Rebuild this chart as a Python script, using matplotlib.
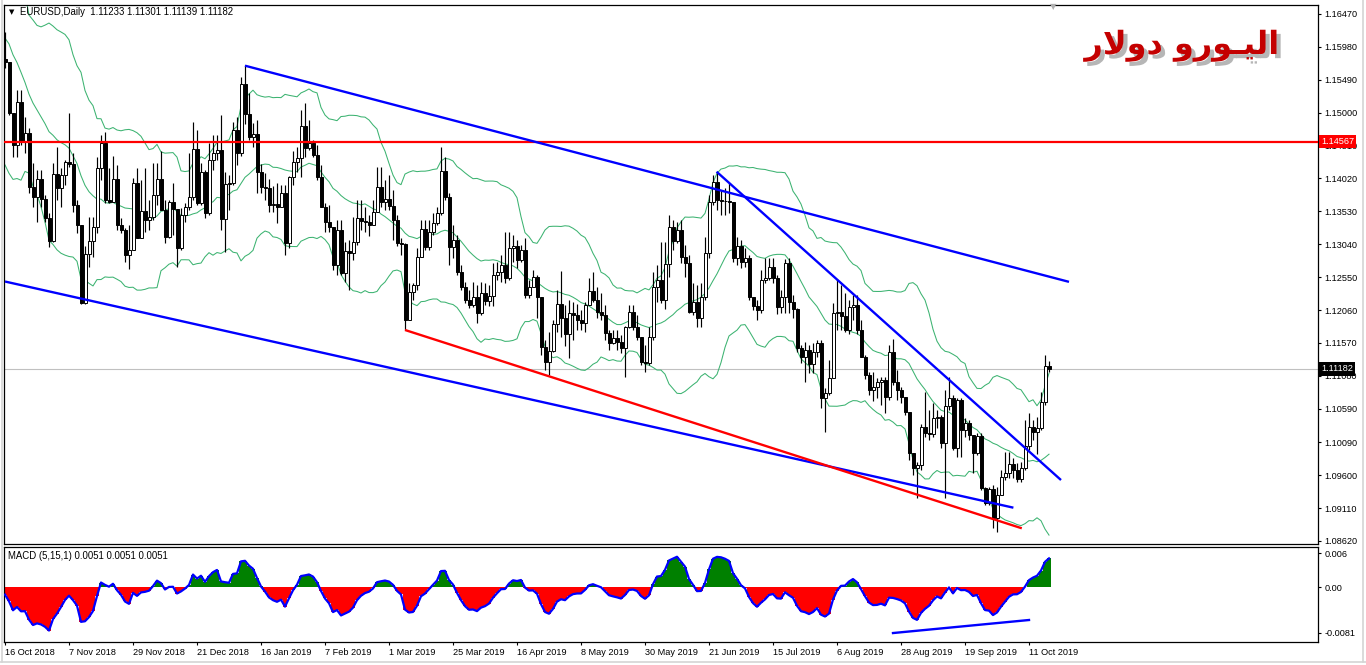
import numpy as np
import pandas as pd
import matplotlib
matplotlib.use("Agg")
import matplotlib.pyplot as plt
from matplotlib import patheffects as pe
from matplotlib.lines import Line2D

W, H = 1366, 665

# ---------------- data ----------------
# closes before the first visible bar (only used to seed Bollinger / MACD)
warmup_closes = [1.1671, 1.1778, 1.1745, 1.1748, 1.1772, 1.1737, 1.1641, 1.1604, 1.1576, 1.1547,
                 1.1549, 1.1516, 1.1523, 1.1491, 1.1491, 1.1524, 1.1593, 1.1560, 1.1580]
first_open = 1.1580

closes = [
    1.1575, 1.1500, 1.1452, 1.1516, 1.1456, 1.1470, 1.1389, 1.1374, 1.1401, 1.1371,
    1.1343, 1.1309, 1.1409, 1.1388, 1.1407, 1.1427, 1.1424, 1.1362, 1.1333, 1.1216,
    1.1289, 1.1309, 1.1330, 1.1418, 1.1455, 1.1370, 1.1367, 1.1401, 1.1333, 1.1325,
    1.1288, 1.1296, 1.1395, 1.1313, 1.1354, 1.1340, 1.1345, 1.1377, 1.1401, 1.1355,
    1.1315, 1.1367, 1.1356, 1.1298, 1.1347, 1.1359, 1.1375, 1.1446, 1.1365, 1.1412,
    1.1350, 1.1430, 1.1440, 1.1444, 1.1342, 1.1394, 1.1395, 1.1474, 1.1440, 1.1543,
    1.1498, 1.1464, 1.1468, 1.1412, 1.1389, 1.1388, 1.1362, 1.1364, 1.1359, 1.1380,
    1.1306, 1.1404, 1.1427, 1.1433, 1.1480, 1.1447, 1.1455, 1.1437, 1.1404, 1.1359,
    1.1337, 1.1330, 1.1273, 1.1325, 1.1261, 1.1294, 1.1291, 1.1307, 1.1343, 1.1339,
    1.1337, 1.1333, 1.1352, 1.1389, 1.1367, 1.1371, 1.1361, 1.1340, 1.1306, 1.1304,
    1.1191, 1.1233, 1.1243, 1.1285, 1.1327, 1.1300, 1.1322, 1.1336, 1.1351, 1.1413,
    1.1374, 1.1300, 1.1310, 1.1263, 1.1240, 1.1221, 1.1213, 1.1225, 1.1202, 1.1231,
    1.1219, 1.1227, 1.1258, 1.1263, 1.1273, 1.1254, 1.1298, 1.1301, 1.1280, 1.1295,
    1.1228, 1.1240, 1.1255, 1.1225, 1.1151, 1.1129, 1.1145, 1.1185, 1.1215, 1.1194,
    1.1170, 1.1202, 1.1199, 1.1191, 1.1186, 1.1213, 1.1234, 1.1221, 1.1203, 1.1199,
    1.1172, 1.1157, 1.1164, 1.1158, 1.1149, 1.1181, 1.1203, 1.1181, 1.1166, 1.1129,
    1.1127, 1.1166, 1.1240, 1.1251, 1.1221, 1.1275, 1.1330, 1.1309, 1.1325, 1.1285,
    1.1276, 1.1203, 1.1218, 1.1194, 1.1225, 1.1291, 1.1367, 1.1397, 1.1370, 1.1368,
    1.1368, 1.1367, 1.1283, 1.1301, 1.1277, 1.1283, 1.1225, 1.1212, 1.1206, 1.1251,
    1.1254, 1.1270, 1.1254, 1.1210, 1.1225, 1.1276, 1.1218, 1.1208, 1.1149, 1.1136,
    1.1146, 1.1126, 1.1143, 1.1157, 1.1075, 1.1082, 1.1105, 1.1201, 1.1203, 1.1197,
    1.1176, 1.1210, 1.1213, 1.1176, 1.1136, 1.1109, 1.1087, 1.1091, 1.1099, 1.1102,
    1.1076, 1.1143, 1.1099, 1.1087, 1.1076, 1.1054, 1.0993, 1.0971, 1.0975, 1.1032,
    1.1023, 1.1021, 1.1045, 1.1047, 1.1008, 1.1063, 1.1075, 1.1000, 1.1072, 1.1027,
    1.1038, 1.1020, 1.0993, 1.1019, 1.0941, 1.0918, 1.0939, 1.0896, 1.0930, 1.0957,
    1.0963, 1.0976, 1.0968, 1.0955, 1.0971, 1.1003, 1.1032, 1.1024, 1.1030, 1.1069,
    1.1123, 1.11182]

highs = [
    1.1620, 1.1575, 1.1500, 1.1534, 1.1534, 1.1494, 1.1477, 1.1425, 1.1415, 1.1415,
    1.1377, 1.1350, 1.1425, 1.1449, 1.1418, 1.1430, 1.1500, 1.1440, 1.1370, 1.1330,
    1.1301, 1.1344, 1.1344, 1.1434, 1.1467, 1.1471, 1.1418, 1.1435, 1.1422, 1.1343,
    1.1328, 1.1333, 1.1403, 1.1418, 1.1400, 1.1418, 1.1370, 1.1425, 1.1425, 1.1443,
    1.1370, 1.1370, 1.1395, 1.1355, 1.1358, 1.1365, 1.1440, 1.1486, 1.1474, 1.1425,
    1.1415, 1.1455, 1.1467, 1.1467, 1.1496, 1.1412, 1.1407, 1.1486, 1.1494, 1.1553,
    1.1571, 1.1529, 1.1485, 1.1489, 1.1424, 1.1410, 1.1401, 1.1391, 1.1395, 1.1392,
    1.1392, 1.1406, 1.1443, 1.1449, 1.1504, 1.1514, 1.1489, 1.1459, 1.1452, 1.1422,
    1.1365, 1.1362, 1.1325, 1.1340, 1.1340, 1.1307, 1.1310, 1.1344, 1.1370, 1.1370,
    1.1359, 1.1348, 1.1370, 1.1419, 1.1419, 1.1400, 1.1407, 1.1385, 1.1348, 1.1313,
    1.1306, 1.1246, 1.1246, 1.1298, 1.1340, 1.1340, 1.1340, 1.1351, 1.1360, 1.1449,
    1.1434, 1.1380, 1.1333, 1.1318, 1.1273, 1.1248, 1.1236, 1.1248, 1.1243, 1.1248,
    1.1246, 1.1243, 1.1276, 1.1278, 1.1288, 1.1322, 1.1322, 1.1318, 1.1310, 1.1303,
    1.1313, 1.1251, 1.1266, 1.1258, 1.1225, 1.1161, 1.1173, 1.1191, 1.1236, 1.1264,
    1.1213, 1.1221, 1.1218, 1.1215, 1.1206, 1.1218, 1.1254, 1.1263, 1.1240, 1.1231,
    1.1213, 1.1176, 1.1176, 1.1176, 1.1169, 1.1182, 1.1213, 1.1213, 1.1199, 1.1164,
    1.1154, 1.1181, 1.1263, 1.1273, 1.1307, 1.1307, 1.1348, 1.1340, 1.1337, 1.1340,
    1.1303, 1.1288, 1.1246, 1.1243, 1.1246, 1.1315, 1.1377, 1.1407, 1.1412, 1.1385,
    1.1388, 1.1395, 1.1362, 1.1315, 1.1310, 1.1298, 1.1288, 1.1225, 1.1221, 1.1266,
    1.1284, 1.1284, 1.1284, 1.1258, 1.1236, 1.1282, 1.1284, 1.1228, 1.1209, 1.1154,
    1.1158, 1.1154, 1.1157, 1.1161, 1.1161, 1.1090, 1.1132, 1.1216, 1.1252, 1.1243,
    1.1231, 1.1221, 1.1228, 1.1228, 1.1191, 1.1139, 1.1113, 1.1113, 1.1105, 1.1106,
    1.1106, 1.1154, 1.1163, 1.1117, 1.1091, 1.1076, 1.1054, 1.0987, 1.0980, 1.1036,
    1.1084, 1.1057, 1.1067, 1.1057, 1.1050, 1.1087, 1.1106, 1.1079, 1.1075, 1.1075,
    1.1045, 1.1042, 1.1020, 1.1023, 1.1023, 1.0942, 1.0942, 1.0945, 1.0942, 1.0968,
    1.0995, 1.0995, 1.0986, 1.0978, 1.0980, 1.1042, 1.1052, 1.1042, 1.1047, 1.1084,
    1.1139, 1.11301]

lows = [
    1.1567, 1.1497, 1.1434, 1.1434, 1.1452, 1.1440, 1.1380, 1.1359, 1.1337, 1.1359,
    1.1337, 1.1300, 1.1307, 1.1370, 1.1359, 1.1392, 1.1419, 1.1352, 1.1321, 1.1215,
    1.1215, 1.1270, 1.1285, 1.1321, 1.1400, 1.1365, 1.1365, 1.1370, 1.1325, 1.1321,
    1.1277, 1.1267, 1.1362, 1.1313, 1.1318, 1.1322, 1.1325, 1.1340, 1.1362, 1.1355,
    1.1306, 1.1313, 1.1318, 1.1270, 1.1295, 1.1337, 1.1355, 1.1370, 1.1362, 1.1362,
    1.1343, 1.1347, 1.1415, 1.1430, 1.1325, 1.1292, 1.1355, 1.1392, 1.1422, 1.1435,
    1.1483, 1.1459, 1.1449, 1.1380, 1.1380, 1.1370, 1.1352, 1.1352, 1.1336, 1.1359,
    1.1288, 1.1298, 1.1392, 1.1412, 1.1404, 1.1434, 1.1444, 1.1434, 1.1400, 1.1359,
    1.1322, 1.1322, 1.1265, 1.1258, 1.1258, 1.1248, 1.1236, 1.1280, 1.1303, 1.1325,
    1.1322, 1.1316, 1.1333, 1.1355, 1.1360, 1.1355, 1.1355, 1.1310, 1.1301, 1.1288,
    1.1176, 1.1191, 1.1221, 1.1236, 1.1285, 1.1295, 1.1295, 1.1318, 1.1333, 1.1348,
    1.1370, 1.1273, 1.1284, 1.1258, 1.1236, 1.1216, 1.1209, 1.1210, 1.1187, 1.1198,
    1.1213, 1.1212, 1.1212, 1.1251, 1.1248, 1.1246, 1.1251, 1.1277, 1.1269, 1.1277,
    1.1224, 1.1224, 1.1243, 1.1194, 1.1139, 1.1117, 1.1109, 1.1143, 1.1173, 1.1166,
    1.1152, 1.1135, 1.1161, 1.1176, 1.1176, 1.1173, 1.1213, 1.1218, 1.1194, 1.1191,
    1.1161, 1.1146, 1.1155, 1.1146, 1.1142, 1.1106, 1.1179, 1.1176, 1.1161, 1.1124,
    1.1113, 1.1124, 1.1161, 1.1218, 1.1216, 1.1207, 1.1255, 1.1295, 1.1306, 1.1276,
    1.1255, 1.1201, 1.1198, 1.1181, 1.1181, 1.1221, 1.1283, 1.1362, 1.1355, 1.1348,
    1.1348, 1.1351, 1.1278, 1.1273, 1.1269, 1.1270, 1.1221, 1.1206, 1.1191, 1.1202,
    1.1246, 1.1251, 1.1246, 1.1200, 1.1202, 1.1202, 1.1202, 1.1194, 1.1143, 1.1127,
    1.1099, 1.1112, 1.1112, 1.1136, 1.1060, 1.1024, 1.1079, 1.1105, 1.1176, 1.1176,
    1.1173, 1.1170, 1.1191, 1.1170, 1.1136, 1.1104, 1.1079, 1.1070, 1.1075, 1.1065,
    1.1053, 1.1072, 1.1094, 1.1072, 1.1067, 1.1050, 1.0982, 1.0960, 1.0926, 1.0968,
    1.1017, 1.1012, 1.1017, 1.1030, 1.1000, 1.0926, 1.1057, 1.0997, 1.0987, 1.0987,
    1.1017, 1.1012, 1.0963, 1.0990, 1.0938, 1.0915, 1.0915, 1.0881, 1.0875, 1.0930,
    1.0953, 1.0956, 1.0956, 1.0950, 1.0950, 1.0968, 1.0998, 1.1012, 1.0991, 1.1028,
    1.1065, 1.11139]

date_labels = ["16 Oct 2018", "7 Nov 2018", "29 Nov 2018", "21 Dec 2018", "16 Jan 2019",
               "7 Feb 2019", "1 Mar 2019", "25 Mar 2019", "16 Apr 2019", "8 May 2019",
               "30 May 2019", "21 Jun 2019", "15 Jul 2019", "6 Aug 2019", "28 Aug 2019",
               "19 Sep 2019", "11 Oct 2019"]
price_ticks = [1.16470, 1.15980, 1.15490, 1.15000, 1.14510, 1.14020, 1.13530, 1.13040,
               1.12550, 1.12060, 1.11570, 1.11080, 1.10590, 1.10090, 1.09600, 1.09110, 1.08620]
macd_ticks = [0.006, 0.0, -0.0081]
macd_tick_labels = ["0.006", "0.00", "-0.0081"]

header_text = "EURUSD,Daily  1.11233 1.11301 1.11139 1.11182"
macd_text = "MACD (5,15,1) 0.0051 0.0051 0.0051"
hline_price = 1.14567
current_price = 1.11182
last_open = 1.11233

# drawn trend-line objects: (bar index, price)
upper_channel = [(60.0, 1.1570), (266.0, 1.1248)]
lower_channel = [(0.0, 1.12485), (252.1, 1.09116)]
red_trend = [(100.0, 1.11763), (254.2, 1.08809)]
blue_down = [(177.9, 1.14121), (264.0, 1.09528)]
macd_trend = [(222.0, -0.00812), (256.0, -0.00582)]

# "اليـورو دولار" written in Arabic presentation forms, visual order
title_text = "\uFEAD\uFEFB\uFEED\uFEA9 \uFEED\uFEAD\uFEEE\u0640\uFEF4\uFEDF\uFE8D"

# ---------------- derived series ----------------
closes = np.array(closes)
highs = np.array(highs)
lows = np.array(lows)
n = len(closes)
x = np.arange(n)
opens = np.concatenate([[first_open], closes[:-1]])
opens[-1] = last_open
highs = np.maximum(highs, np.maximum(opens, closes))
lows = np.minimum(lows, np.minimum(opens, closes))

allc = pd.Series(list(warmup_closes) + list(closes))
mid = allc.rolling(20).mean().values[len(warmup_closes):]
sd = allc.rolling(20).std(ddof=0).values[len(warmup_closes):]
upper = mid + 2 * sd
lower = mid - 2 * sd
ema5 = allc.ewm(span=5, adjust=False).mean()
ema15 = allc.ewm(span=15, adjust=False).mean()
macd = (ema5 - ema15).values[len(warmup_closes):]

# ---------------- figure ----------------
fig = plt.figure(figsize=(W / 100, H / 100), dpi=100)
fig.patch.set_facecolor("white")
lab_font = ["Liberation Sans", "DejaVu Sans"]
plt.rcParams["font.family"] = lab_font

ax = fig.add_axes([4 / W, 1 - 544 / H, 1314 / W, 539 / H])
ax2 = fig.add_axes([4 / W, 1 - 642 / H, 1314 / W, 95 / H])

xl = (-0.25, 328.25)
for a in (ax, ax2):
    a.set_xlim(*xl)
    for s in a.spines.values():
        s.set_color("black")
        s.set_linewidth(0.9)
    a.set_facecolor("white")

ax.set_ylim(1.08575, 1.16604)
ax2.set_ylim(-0.0097, 0.00706)

# Bollinger bands
band_c = "#3CB371"
for arr in (upper, mid, lower):
    ax.plot(x, arr, color=band_c, lw=0.75, zorder=1.5)

# candles
up = closes >= opens
ax.vlines(x, lows, highs, color="black", lw=0.85, zorder=2)
ax.bar(x[up], (closes - opens)[up], bottom=opens[up], width=0.75, facecolor="white",
       edgecolor="black", linewidth=0.7, zorder=3)
ax.bar(x[~up], (opens - closes)[~up], bottom=closes[~up], width=0.75, facecolor="black",
       edgecolor="black", linewidth=0.7, zorder=3)

# horizontal lines
ax.axhline(current_price, color="#c0c0c0", lw=0.8, zorder=1)
ax.axhline(hline_price, color="#ff0000", lw=1.6, zorder=4)

# trend lines
for pts, col in ((upper_channel, "#0000ff"), (lower_channel, "#0000ff"),
                 (red_trend, "#ff0000"), (blue_down, "#0000ff")):
    ax.plot([p[0] for p in pts], [p[1] for p in pts], color=col, lw=1.7,
            solid_capstyle="butt", zorder=4)

# y ticks (right)
ax.yaxis.tick_right()
ax.set_yticks(price_ticks)
ax.set_yticklabels([f"{v:.5f}" for v in price_ticks])
ax.tick_params(axis="y", direction="out", length=2.5, width=0.8, labelsize=6.6, pad=2,
               colors="black")
ax.tick_params(axis="x", bottom=False, labelbottom=False)

# price boxes on axis
ytr = ax.get_yaxis_transform()
ax.text(1.0 + 3 / 1314, hline_price, f"{hline_price:.5f}", transform=ytr, color="white",
        fontsize=6.6, va="center", ha="left", zorder=10, clip_on=False,
        bbox=dict(boxstyle="square,pad=0.22", facecolor="#ff0000", edgecolor="none"))
ax.text(1.0 + 3 / 1314, current_price, f"{current_price:.5f}", transform=ytr, color="white",
        fontsize=6.6, va="center", ha="left", zorder=10, clip_on=False,
        bbox=dict(boxstyle="square,pad=0.22", facecolor="black", edgecolor="none"))

# MACD panel
cols = np.where(macd >= 0, "#008000", "#ff0000")
ax2.bar(x, macd, width=1.0, color=cols, linewidth=0, zorder=2)
ax2.plot(x, macd, color="#0000ff", lw=1.6, zorder=3)
ax2.plot([p[0] for p in macd_trend], [p[1] for p in macd_trend], color="#0000ff", lw=1.7,
         zorder=4)
ax2.yaxis.tick_right()
ax2.set_yticks(macd_ticks)
ax2.set_yticklabels(macd_tick_labels)
ax2.tick_params(axis="y", direction="out", length=2.5, width=0.8, labelsize=6.6, pad=2)
ax2.set_xticks(np.arange(len(date_labels)) * 16)
ax2.set_xticklabels(date_labels, ha="left")
ax2.tick_params(axis="x", direction="out", length=2.5, width=0.8, labelsize=6.6, pad=1.5)

# header texts
fig.text(11.5 / W, 1 - 12 / H, "\u25BC", fontsize=5, ha="center", va="center",
         family=["DejaVu Sans"])
fig.text(20 / W, 1 - 12 / H, header_text, fontsize=6.9, ha="left", va="center")
fig.text(8 / W, 1 - 556 / H, macd_text, fontsize=6.9, ha="left", va="center")
fig.text(1053 / W, 1 - 7 / H, "\u25BC", fontsize=6, color="#b0b0b0", ha="center",
         va="center", family=["DejaVu Sans"])

# Arabic title with shadow
fig.text(1182 / W, 1 - 46 / H, title_text, fontsize=23, fontweight="bold", color="#c40000",
         family=["DejaVu Sans"], ha="center", va="center",
         path_effects=[pe.withSimplePatchShadow(offset=(3, -3), shadow_rgbFace="#7a7a7a",
                                                alpha=0.55)])

# window frame
fig.add_artist(Line2D([0, 1], [1 - 662 / H] * 2, transform=fig.transFigure, color="#d4d4d4", lw=1.2))
fig.add_artist(Line2D([1363 / W] * 2, [1 - 662 / H, 1], transform=fig.transFigure, color="#d4d4d4", lw=1.2))
fig.add_artist(Line2D([1.5 / W] * 2, [1 - 662 / H, 1], transform=fig.transFigure, color="#d4d4d4", lw=1.2))

fig.savefig("out.png", dpi=100, facecolor="white")
